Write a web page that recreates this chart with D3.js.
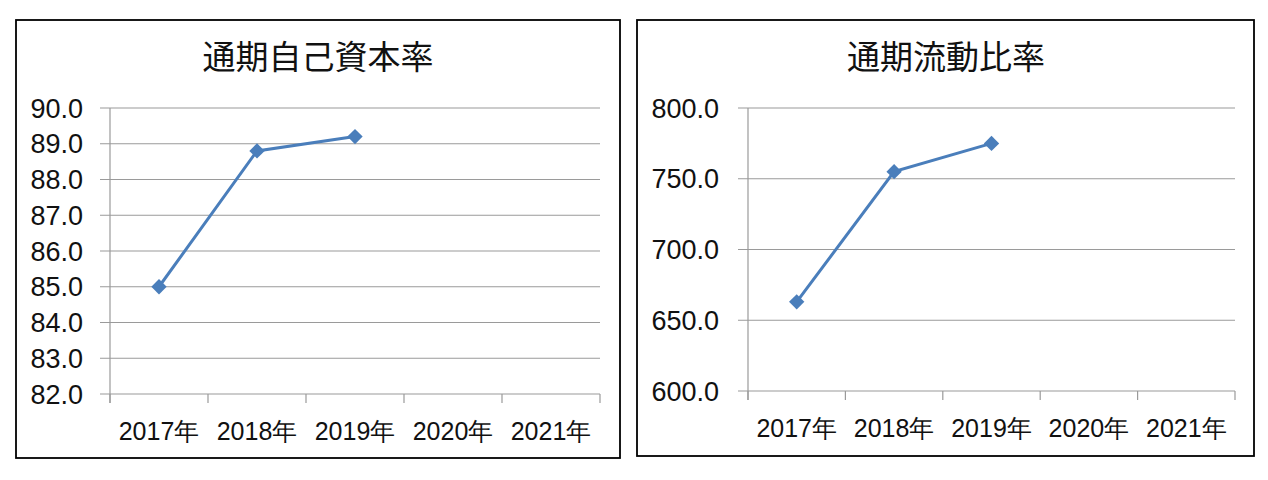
<!DOCTYPE html>
<html>
<head>
<meta charset="utf-8">
<script src="https://cdn.jsdelivr.net/npm/d3@7/dist/d3.min.js"></script>
<style>
  body { margin: 0; background: #fff; }
  svg text { fill: #111; }
</style>
</head>
<body>
<svg id="chart" width="1268" height="480"></svg>
<script>
// Data
const years = ["2017年", "2018年", "2019年", "2020年", "2021年"];
const equityRatio  = [85.0, 88.8, 89.2, null, null];
const currentRatio = [663, 755, 775, null, null];
const equityTicks  = [82, 83, 84, 85, 86, 87, 88, 89, 90];
const currentTicks = [600, 650, 700, 750, 800];

const svg = d3.select("#chart");
const LINE = "#4a7ebb";
const GRID = "#9a9a9a";
const numFont = "'Liberation Sans', Arial, sans-serif";
const cjkFont = "'Noto Sans CJK JP', 'Noto Sans CJK SC', sans-serif";

function drawPanel(opt) {
  const g = svg.append("g");

  // outer frame
  g.append("rect")
    .attr("x", opt.frame[0]).attr("y", opt.frame[1])
    .attr("width", opt.frame[2]).attr("height", opt.frame[3])
    .attr("fill", "#fff").attr("stroke", "#000").attr("stroke-width", 1.8);

  g.append("text")
    .attr("x", opt.titleX).attr("y", 69)
    .attr("text-anchor", "middle")
    .style("font-family", cjkFont).style("font-size", "33px")
    .text(opt.title);

  const x = d3.scaleBand().domain(years).range([opt.x0, opt.x1]);
  const y = d3.scaleLinear().domain(opt.domain).range([opt.yBottom, 108]);

  // horizontal gridlines (extend a little to the left like tick marks)
  g.append("g").selectAll("line")
    .data(opt.ticks)
    .join("line")
      .attr("x1", opt.x0 - 10).attr("x2", opt.x1)
      .attr("y1", d => y(d)).attr("y2", d => y(d))
      .attr("stroke", GRID).attr("stroke-width", 1.2);

  // y axis line
  g.append("line")
    .attr("x1", opt.x0).attr("x2", opt.x0)
    .attr("y1", 108).attr("y2", opt.yBottom + 9)
    .attr("stroke", GRID).attr("stroke-width", 1.2);

  // category boundary ticks
  const bounds = years.map(d => x(d) + x.bandwidth()).concat([opt.x0]);
  g.append("g").selectAll("line")
    .data(bounds)
    .join("line")
      .attr("x1", d => d).attr("x2", d => d)
      .attr("y1", opt.yBottom).attr("y2", opt.yBottom + 9)
      .attr("stroke", GRID).attr("stroke-width", 1.2);

  // y labels
  g.append("g").selectAll("text")
    .data(opt.ticks)
    .join("text")
      .attr("x", opt.labelRight).attr("y", d => y(d))
      .attr("text-anchor", "end").attr("dy", "0.36em")
      .style("font-family", numFont).style("font-size", "27px")
      .text(d => d3.format(".1f")(d));

  // x labels
  g.append("g").selectAll("text")
    .data(years)
    .join("text")
      .attr("x", d => x(d) + x.bandwidth() / 2).attr("y", opt.xLabelY)
      .attr("text-anchor", "middle").attr("dy", "0.36em")
      .style("font-family", numFont).style("font-size", "25px")
      .text(d => d);

  const pts = years.map((d, i) => ({ k: d, v: opt.values[i] })).filter(p => p.v != null);

  const line = d3.line()
    .x(p => x(p.k) + x.bandwidth() / 2)
    .y(p => y(p.v));

  g.append("path")
    .datum(pts)
    .attr("d", line)
    .attr("fill", "none").attr("stroke", LINE).attr("stroke-width", 3);

  g.append("g").selectAll("path")
    .data(pts)
    .join("path")
      .attr("transform", p => `translate(${x(p.k) + x.bandwidth() / 2},${y(p.v)})`)
      .attr("d", d3.symbol(d3.symbolDiamond2, 150))
      .attr("fill", LINE);
}

drawPanel({
  frame: [16, 20, 604, 438],
  title: "通期自己資本率",
  titleX: 318,
  x0: 110, x1: 600, yBottom: 394,
  domain: [82, 90], ticks: equityTicks,
  labelRight: 83, xLabelY: 431,
  values: equityRatio
});

drawPanel({
  frame: [637, 20, 617, 436],
  title: "通期流動比率",
  titleX: 946,
  x0: 748, x1: 1235, yBottom: 391,
  domain: [600, 800], ticks: currentTicks,
  labelRight: 719, xLabelY: 428,
  values: currentRatio
});
</script>
</body>
</html>
